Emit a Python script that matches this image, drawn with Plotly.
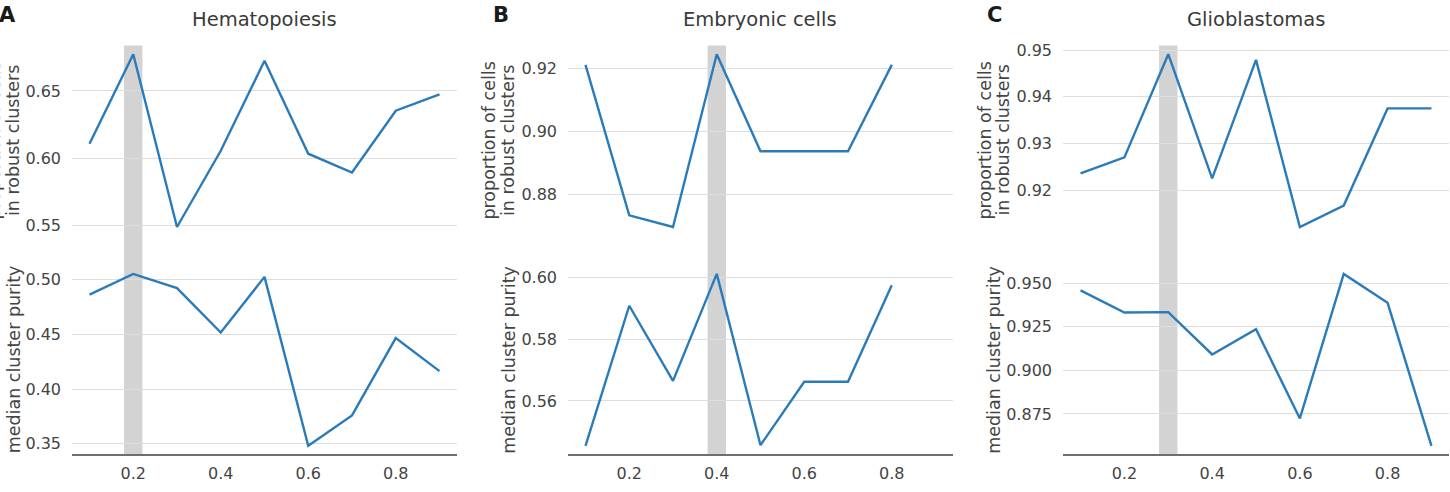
import plotly.graph_objects as go

# ---------------- data ----------------
alpha_A = [0.1, 0.2, 0.3, 0.4, 0.5, 0.6, 0.7, 0.8, 0.9]
prop_A = [0.6107, 0.6773, 0.5488, 0.6055, 0.6724, 0.6033, 0.5893, 0.6353, 0.6475]
purity_A = [0.4862, 0.5051, 0.4922, 0.4516, 0.5024, 0.3482, 0.3759, 0.4465, 0.4164]

alpha_B = [0.1, 0.2, 0.3, 0.4, 0.5, 0.6, 0.7, 0.8]
prop_B = [0.9211, 0.8732, 0.8695, 0.9245, 0.8936, 0.8936, 0.8936, 0.9211]
purity_B = [0.5455, 0.5908, 0.5665, 0.6011, 0.5457, 0.5662, 0.5662, 0.5974]

alpha_C = [0.1, 0.2, 0.3, 0.4, 0.5, 0.6, 0.7, 0.8, 0.9]
prop_C = [0.9236, 0.9270, 0.9491, 0.9225, 0.9479, 0.9121, 0.9167, 0.9375, 0.9375]
purity_C = [0.9459, 0.9332, 0.9334, 0.9091, 0.9236, 0.8724, 0.9553, 0.9387, 0.8567]

best_A, best_B, best_C = 0.2, 0.4, 0.3

titles = ["Hematopoiesis", "Embryonic cells", "Glioblastomas"]
letters = ["A", "B", "C"]

x_ticks = [0.2, 0.4, 0.6, 0.8]
x_ticktext = ["0.2", "0.4", "0.6", "0.8"]

prop_ticks_A = [0.55, 0.60, 0.65]
prop_ticktext_A = ["0.55", "0.60", "0.65"]
purity_ticks_A = [0.35, 0.40, 0.45, 0.50]
purity_ticktext_A = ["0.35", "0.40", "0.45", "0.50"]

prop_ticks_B = [0.88, 0.90, 0.92]
prop_ticktext_B = ["0.88", "0.90", "0.92"]
purity_ticks_B = [0.56, 0.58, 0.60]
purity_ticktext_B = ["0.56", "0.58", "0.60"]

prop_ticks_C = [0.92, 0.93, 0.94, 0.95]
prop_ticktext_C = ["0.92", "0.93", "0.94", "0.95"]
purity_ticks_C = [0.875, 0.900, 0.925, 0.950]
purity_ticktext_C = ["0.875", "0.900", "0.925", "0.950"]

ylabel_top = ["proportion of cells", "in robust clusters"]
ylabel_bottom = "median cluster purity"
xlabel = "α"

# ---------------- layout geometry (pixels) ----------------
W, H = 1450, 492
FONT = "DejaVu Sans"
LINE_COLOR = "#2b7bba"
GRID = "#dedede"
TEXT = "#444444"

x_domains_px = [(72, 457), (568, 953), (1063, 1449)]
top_px = (41, 233)
bot_px = (263, 454)
ylab_top_x = [(-6, 12.5), (489, 507.5), (985, 1003)]
ylab_bot_x = [13.5, 509, 994]
letter_x = [-3, 491, 985]


def fx(p):
    return p / W


def fy(p):
    return 1 - p / H


def pad_range(vals):
    lo, hi = min(vals), max(vals)
    m = 0.05 * (hi - lo)
    return [lo - m, hi + m]


panels = [
    (alpha_A, prop_A, purity_A, best_A, prop_ticks_A, prop_ticktext_A, purity_ticks_A, purity_ticktext_A),
    (alpha_B, prop_B, purity_B, best_B, prop_ticks_B, prop_ticktext_B, purity_ticks_B, purity_ticktext_B),
    (alpha_C, prop_C, purity_C, best_C, prop_ticks_C, prop_ticktext_C, purity_ticks_C, purity_ticktext_C),
]

fig = go.Figure()
layout = {}
annotations = []
shapes = []

for i, (al, pr, pu, best, pt, ptt, ut, utt) in enumerate(panels):
    k = i + 1
    xa = "x" if k == 1 else f"x{k}"
    yt_n, yb_n = 2 * k - 1, 2 * k
    yt = "y" if yt_n == 1 else f"y{yt_n}"
    yb = f"y{yb_n}"

    fig.add_trace(go.Scatter(x=al, y=pr, xaxis=xa, yaxis=yt, mode="lines",
                             line=dict(color=LINE_COLOR, width=2.4), showlegend=False))
    fig.add_trace(go.Scatter(x=al, y=pu, xaxis=xa, yaxis=yb, mode="lines",
                             line=dict(color=LINE_COLOR, width=2.4), showlegend=False))

    d0, d1 = x_domains_px[i]
    layout[f"xaxis{'' if k == 1 else k}"] = dict(
        domain=[fx(d0), fx(d1)], range=[0.06, 0.94], anchor=yb,
        tickvals=x_ticks, ticktext=x_ticktext, showgrid=False, zeroline=False,
        showline=True, linecolor="#6e6e6e", linewidth=2, ticks="",
        ticklabelstandoff=3,
        tickfont=dict(family=FONT, size=16, color=TEXT),
    )
    common_y = dict(anchor=xa, showgrid=True, gridcolor=GRID, gridwidth=1.3,
                    zeroline=False, showline=False, ticks="", ticklabelstandoff=10,
                    tickfont=dict(family=FONT, size=16, color=TEXT))
    layout[f"yaxis{'' if yt_n == 1 else yt_n}"] = dict(
        domain=[fy(top_px[1]), fy(top_px[0])], range=pad_range(pr),
        tickvals=pt, ticktext=ptt, **common_y)
    layout[f"yaxis{yb_n}"] = dict(
        domain=[fy(bot_px[1]), fy(bot_px[0])], range=pad_range(pu),
        tickvals=ut, ticktext=utt, **common_y)

    shapes.append(dict(type="rect", xref=xa, yref="paper",
                       x0=best - 0.021, x1=best + 0.021,
                       y0=fy(bot_px[1]), y1=fy(top_px[0]),
                       fillcolor="#d3d3d3", line=dict(width=0), layer="between"))

    cx = (d0 + d1) / 2
    annotations.append(dict(text=titles[i], x=fx(cx), y=fy(15), xref="paper", yref="paper",
                            xanchor="center", yanchor="middle", showarrow=False,
                            font=dict(family=FONT, size=19.5, color="#3a3a3a")))
    annotations.append(dict(text=f"<b>{letters[i]}</b>", x=fx(letter_x[i]), y=fy(10),
                            xref="paper", yref="paper", xanchor="left", yanchor="middle",
                            showarrow=False, font=dict(family=FONT, size=21, color="#1a1a1a")))
    for j, line_txt in enumerate(ylabel_top):
        annotations.append(dict(text=line_txt, x=fx(ylab_top_x[i][j]), y=fy((top_px[0] + top_px[1]) / 2),
                                xref="paper", yref="paper", xanchor="center", yanchor="middle",
                                textangle=-90, showarrow=False,
                                font=dict(family=FONT, size=17.5, color=TEXT)))
    annotations.append(dict(text=ylabel_bottom, x=fx(ylab_bot_x[i]), y=fy((bot_px[0] + bot_px[1]) / 2),
                            xref="paper", yref="paper", xanchor="center", yanchor="middle",
                            textangle=-90, showarrow=False,
                            font=dict(family=FONT, size=17.5, color=TEXT)))
    annotations.append(dict(text=xlabel, x=fx(cx), y=fy(499), xref="paper", yref="paper",
                            xanchor="center", yanchor="middle", showarrow=False,
                            font=dict(family=FONT, size=17.5, color=TEXT)))

fig.update_layout(**layout)
fig.update_layout(
    width=W, height=H, autosize=False,
    margin=dict(l=0, r=0, t=0, b=0),
    paper_bgcolor="white", plot_bgcolor="white",
    annotations=annotations, shapes=shapes,
    font=dict(family=FONT, color=TEXT),
)

fig.write_html("out.html")
